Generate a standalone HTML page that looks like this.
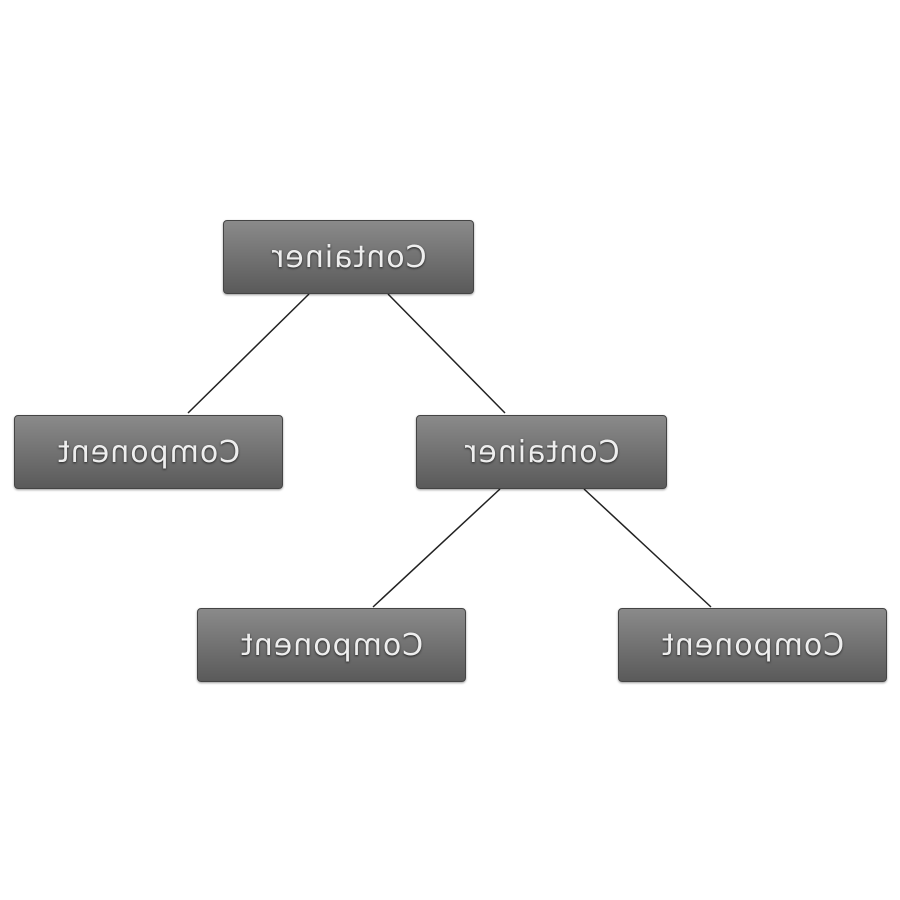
<!DOCTYPE html>
<html><head><style>
body{margin:0;width:900px;height:900px;background:#fff;position:relative;overflow:hidden}
.b{position:absolute;box-sizing:border-box;height:74px;border:1px solid #444;border-radius:4px;
background:linear-gradient(#8a8a8a,#5a5a5a);box-shadow:0 1px 2px rgba(0,0,0,.4);
display:flex;align-items:center;justify-content:center}
.b span{display:inline-block;transform:scaleX(-1);font-family:"DejaVu Sans","Liberation Sans",sans-serif;
font-size:30px;color:#eee;text-shadow:0 1px 2px #222;letter-spacing:1px}
svg{position:absolute;left:0;top:0}
</style></head><body>
<svg width="900" height="900"><g stroke="#222" stroke-width="1.5">
<line x1="309" y1="294" x2="188" y2="413"/><line x1="388" y1="294" x2="505" y2="413"/>
<line x1="500" y1="489" x2="373" y2="607"/><line x1="584" y1="489" x2="711" y2="607"/></g></svg>
<div class="b" style="left:223px;top:220px;width:251px"><span>Container</span></div>
<div class="b" style="left:14px;top:415px;width:269px"><span>Component</span></div>
<div class="b" style="left:416px;top:415px;width:251px"><span>Container</span></div>
<div class="b" style="left:197px;top:608px;width:269px"><span>Component</span></div>
<div class="b" style="left:618px;top:608px;width:269px"><span>Component</span></div>
</body></html>
